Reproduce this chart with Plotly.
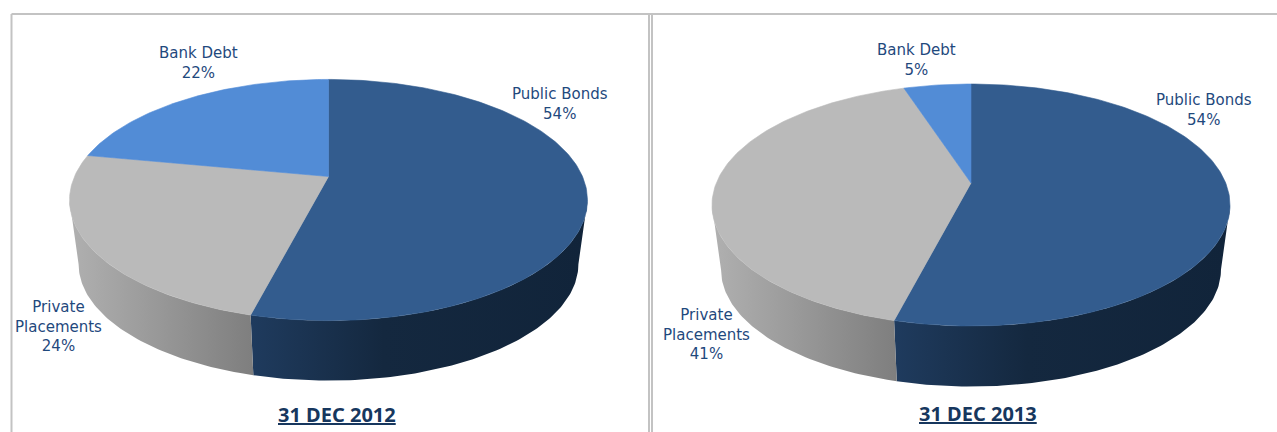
import numpy as np
import plotly.graph_objects as go

# Debt mix, clockwise from twelve o'clock
categories = ["Public Bonds", "Private Placements", "Bank Debt"]
label_lines = ["Public Bonds", "Private<br>Placements", "Bank Debt"]
shares_2012 = [54, 24, 22]
shares_2013 = [54, 41, 5]
titles = ["31 DEC 2012", "31 DEC 2013"]

TOP_COLORS = ["#335c8e", "#bababa", "#528cd6"]
NAVY = "#1f497d"
TITLE_NAVY = "#17375e"
LABEL_FONT = "DejaVu Sans"
TITLE_FONT = "Noto Sans"
LABEL_SIZE = 15
FRAME = "#c3c3c3"

# Projection of each disc: pivot, half-width, half-depth and perspective strength
DISCS = [
    dict(cx=328.5, py=176.5, a=254.0, b=116.0, k=0.195, drop=65.0),
    dict(cx=971.0, py=183.0, a=254.7, b=117.0, k=0.182, drop=65.5),
]
BASE_SCALE = 0.965
LABEL_POS = [
    [(560, 103.5), (58, 326.5), (198.5, 62.5)],
    [(1204, 110), (706, 334), (916, 60)],
]
TITLE_POS = [(337, 414), (978, 413)]


def rim(disc, theta, base=False):
    """Screen position of a rim point; theta in radians clockwise from the top."""
    u, v = np.sin(theta), -np.cos(theta)
    w = 1 - disc["k"] * v
    x, y = disc["a"] * u / w, disc["b"] * v / w
    if base:
        return disc["cx"] + BASE_SCALE * x, disc["py"] + disc["drop"] + BASE_SCALE * y
    return disc["cx"] + x, disc["py"] + y


def arc_angles(start, end):
    return np.linspace(start, end, max(int(abs(end - start) * 60), 8))


def wall_trace(disc, start, end, stops, grad_from, grad_to):
    t = arc_angles(start, end)
    xt, yt = rim(disc, t)
    xb, yb = rim(disc, t[::-1], base=True)
    return go.Scatter(
        x=np.r_[xt, xb, xt[0]], y=np.r_[yt, yb, yt[0]],
        mode="lines", line=dict(width=0), fill="toself",
        fillgradient=dict(type="horizontal", colorscale=stops,
                          start=grad_from, stop=grad_to),
        hoverinfo="skip", showlegend=False,
    )


def top_trace(disc, start, end, color, name):
    t = arc_angles(start, end)
    x, y = rim(disc, t)
    return go.Scatter(
        x=np.r_[disc["cx"], x, disc["cx"]], y=np.r_[disc["py"], y, disc["py"]],
        mode="lines", line=dict(width=0.6, color=color), fill="toself",
        fillcolor=color, name=name, hoverinfo="name", showlegend=False,
    )


fig = go.Figure()
annotations = []

for disc, shares, title, positions, tpos in zip(
    DISCS, [shares_2012, shares_2013], titles, LABEL_POS, TITLE_POS
):
    edges = 2 * np.pi * np.cumsum([0] + shares) / 100
    seam = edges[1]
    seam_x = rim(disc, seam)[0]
    # Rim angles where the disc is widest on screen; the wall outline leaves the rim here
    right_edge = np.arccos(-disc["k"])
    left_edge = 2 * np.pi - right_edge

    # Side wall: the dark part runs right of the first seam, the grey part left of it
    fig.add_trace(wall_trace(disc, right_edge, seam,
                             [[0, "#1f3b5e"], [0.4, "#14283f"], [1, "#11243a"]],
                             seam_x, disc["cx"] + 255))
    fig.add_trace(wall_trace(disc, seam, left_edge,
                             [[0, "#b0b0b0"], [1, "#7f7f7f"]],
                             disc["cx"] - 258, seam_x))

    for i, color in enumerate(TOP_COLORS):
        fig.add_trace(top_trace(disc, edges[i], edges[i + 1], color, categories[i]))

    for text, share, (x, y) in zip(label_lines, shares, positions):
        annotations.append(dict(
            x=x, y=y, xref="x", yref="y", showarrow=False, align="center",
            text=f"{text}<br>{share}%",
            font=dict(family=LABEL_FONT, size=LABEL_SIZE, color=NAVY),
        ))
    annotations.append(dict(
        x=tpos[0], y=tpos[1], xref="x", yref="y", showarrow=False,
        text=f"<b>{title}</b>",
        font=dict(family=TITLE_FONT, size=20, color=TITLE_NAVY, lineposition="under"),
    ))

# Panel frames
frame_lines = [
    (11.5, 14, 1277, 14),
    (11.5, 14, 11.5, 432),
    (649, 14, 649, 432),
    (652, 14, 652, 432),
]
shapes = [
    dict(type="line", x0=x0, y0=y0, x1=x1, y1=y1, xref="x", yref="y",
         line=dict(color=FRAME, width=2), layer="below")
    for x0, y0, x1, y1 in frame_lines
]

fig.update_layout(
    width=1277, height=432, autosize=False,
    margin=dict(l=0, r=0, t=0, b=0),
    paper_bgcolor="white", plot_bgcolor="white",
    xaxis=dict(range=[0, 1277], visible=False, fixedrange=True),
    yaxis=dict(range=[432, 0], visible=False, fixedrange=True),
    shapes=shapes, annotations=annotations,
)

fig.write_html("out.html", config=dict(displayModeBar=False))
